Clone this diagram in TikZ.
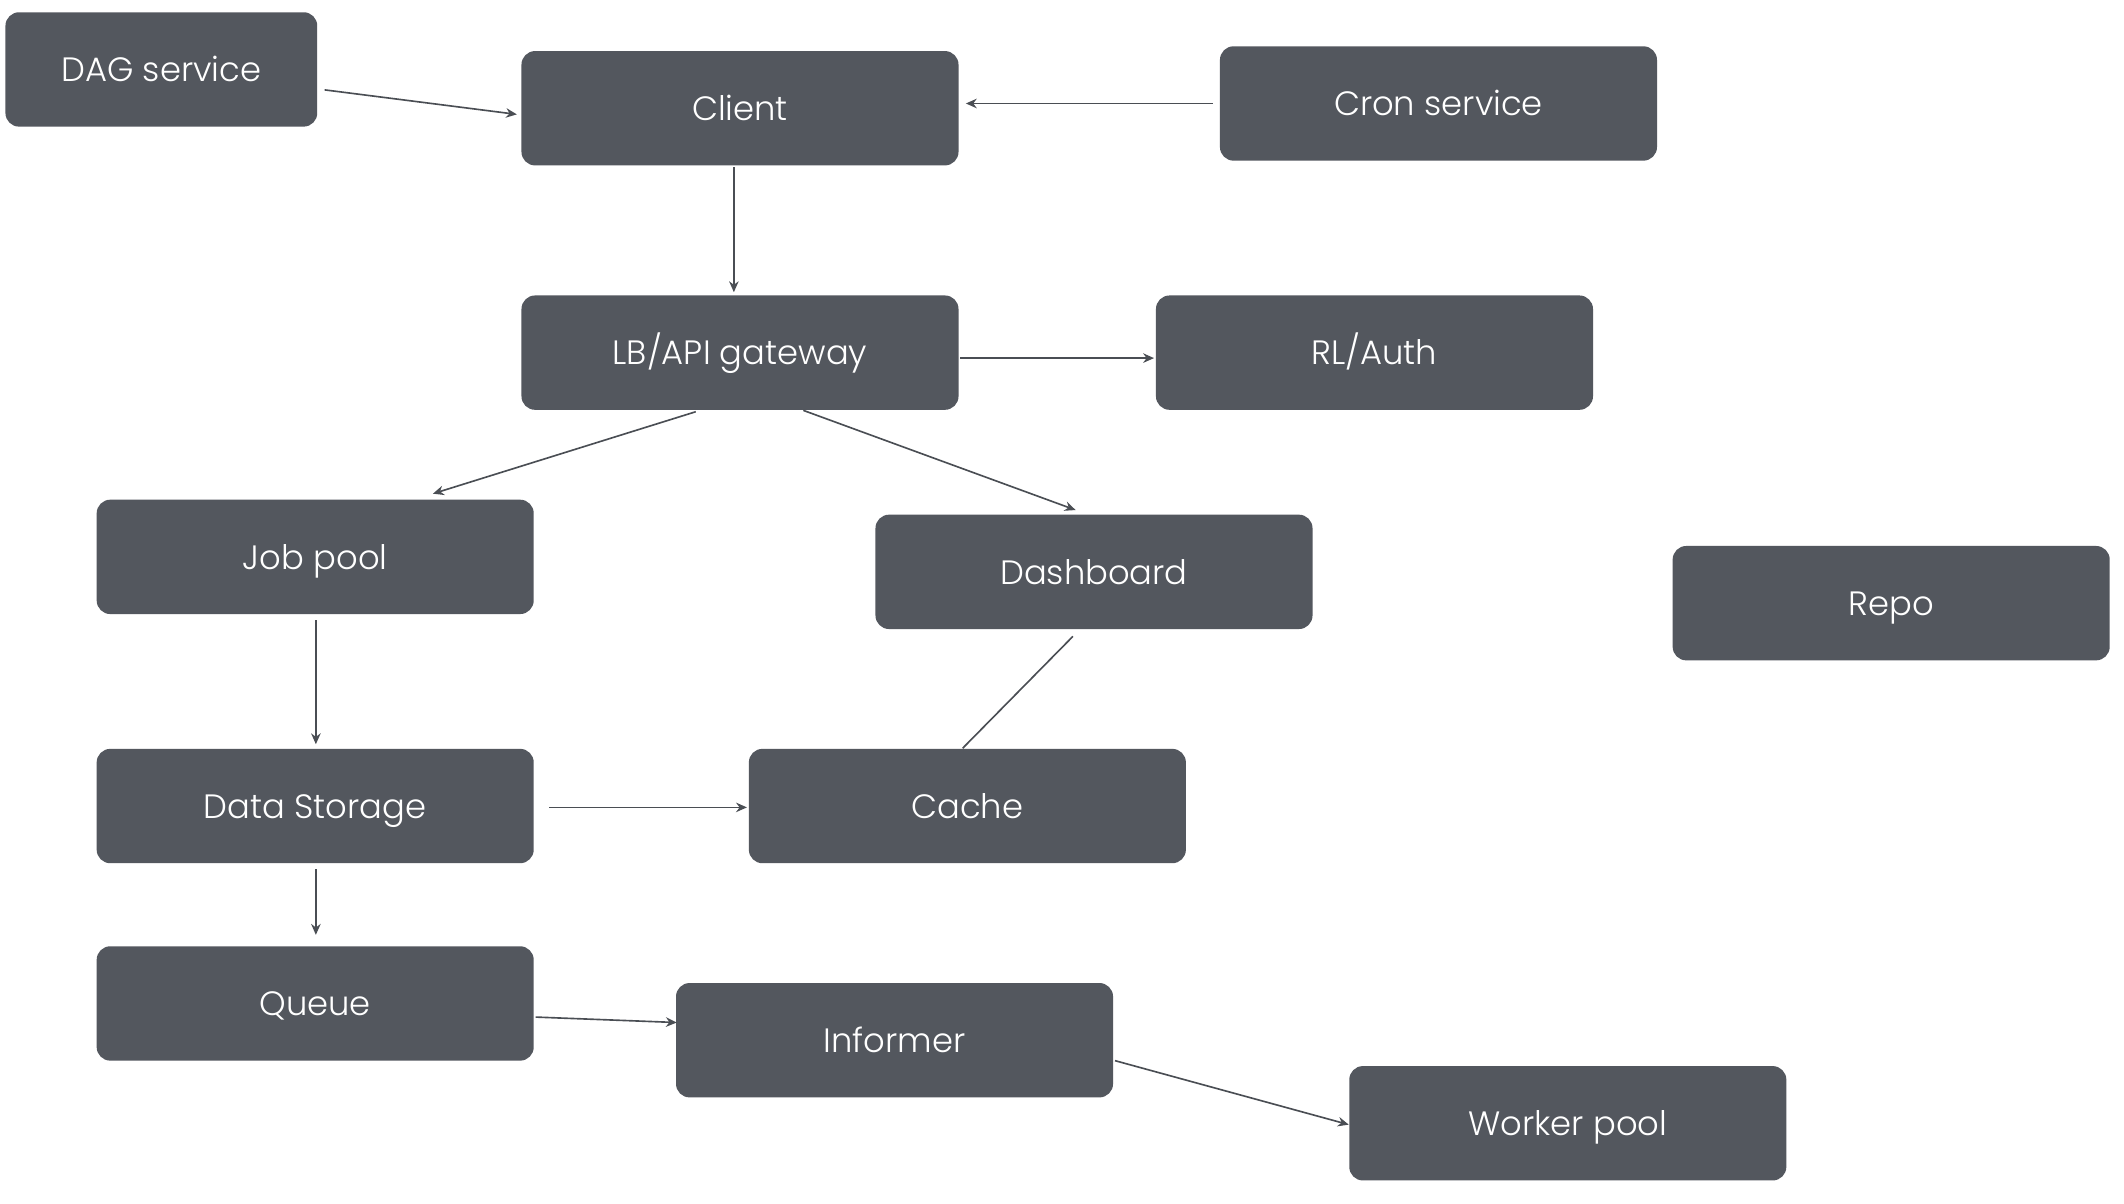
\documentclass[tikz,border=0pt]{standalone}
\usepackage{fontspec}
\setmainfont{Poppins}[UprightFont=* Light]
\usetikzlibrary{calc,arrows.meta}
\definecolor{boxfill}{HTML}{53575E}
\definecolor{linec}{HTML}{4A4E54}
\tikzset{
  box/.style={fill=boxfill, rounded corners=5pt, minimum width=160.5pt, minimum height=42pt, inner sep=0pt, text=white, font=\fontsize{12.4}{15}\selectfont, text depth=0pt, text height=9pt},
  arr/.style={draw=linec, line width=0.6pt, -{Stealth[length=4pt,width=3.5pt]}},
  conn/.style={draw=linec, line width=0.6pt}
}
\begin{document}
\begin{tikzpicture}[x=0.5pt,y=-0.5pt]
\useasboundingbox[fill=white] (0,0) rectangle (1560,884);
\node[box, minimum width=114.5pt] (dag) at (118.5,51) {DAG service};
\node[box] (client) at (543.5,79.5) {Client};
\node[box] (cron) at (1056.5,76) {Cron service};
\node[box] (lb) at (543.5,259) {LB/API gateway};
\node[box] (rl) at (1009.5,259) {RL/Auth};
\node[box] (job) at (231.5,409) {Job pool};
\node[box] (dash) at (803.5,420) {Dashboard};
\node[box] (repo) at (1389,443) {Repo};
\node[box] (ds) at (231.5,592) {Data Storage};
\node[box] (cache) at (710.5,592) {Cache};
\node[box] (queue) at (231.5,737) {Queue};
\node[box] (inf) at (657,764) {Informer};
\node[box] (worker) at (1151.5,825) {Worker pool};

\draw[arr] ($(dag.east)+(5,15)$) -- ($(client.west)+(-3,4.5)$);
\draw[arr] ($(cron.west)+(-5,0)$) -- ($(client.east)+(5,-3.5)$);
\draw[arr] ($(client.south)+(-4.5,1)$) -- ($(lb.north)+(-4.5,-2)$);
\draw[arr] ($(lb.east)+(1,4)$) -- ($(rl.west)+(-1,4)$);
\draw[arr] ($(lb.south)+(-32.5,1)$) -- ($(job.north)+(86.5,-4)$);
\draw[arr] ($(lb.south)+(46.5,0)$) -- ($(dash.north)+(-13.5,-3)$);
\draw[conn] ($(dash.south)+(-15.5,5)$) -- ($(cache.north)+(-3.5,0)$);
\draw[arr] ($(job.south)+(0.5,4)$) -- ($(ds.north)+(0.5,-3)$);
\draw[arr] ($(ds.east)+(11,1)$) -- ($(cache.west)+(-1,1)$);
\draw[arr] ($(ds.south)+(0.5,4)$) -- ($(queue.north)+(0.5,-8)$);
\draw[arr] ($(queue.east)+(1,10)$) -- ($(inf.west)+(1,-13)$);
\draw[arr] ($(inf.east)+(1,15)$) -- ($(worker.west)+(0,1)$);
\end{tikzpicture}
\end{document}
